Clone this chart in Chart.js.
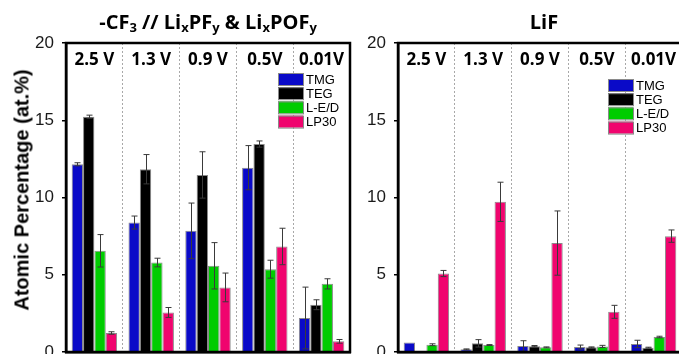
<!DOCTYPE html>
<html>
<head>
<meta charset="utf-8">
<script src="https://cdn.jsdelivr.net/npm/chart.js@4.4.1/dist/chart.umd.min.js"></script>
<style>
    html, body { margin: 0; padding: 0; background: #fff; }
    body { width: 679px; height: 354px; position: relative; overflow: hidden; }
    canvas { position: absolute; top: 0; }
    #leftChart { left: 0; }
    #rightChart { left: 352px; }
    .title {
        position: absolute; top: 8px; font-family: "Open Sans", sans-serif; font-weight: bold;
        font-size: 20px; color: #000; white-space: nowrap; transform: translateX(-50%); line-height: 28px;
    }
    .title sub { font-size: 13px; vertical-align: -3px; line-height: 0; }
    #yTitle {
        position: absolute; left: 22px; top: 190px; font-family: "Liberation Sans", Arial, sans-serif;
        font-weight: bold; font-size: 20px; white-space: nowrap; transform: translate(-50%, -50%) rotate(-90deg);
    }
</style>
</head>
<body>
<canvas id="leftChart" width="352" height="354"></canvas>
<canvas id="rightChart" width="335" height="354"></canvas>
<div class="title" style="left:208px">-CF<sub>3</sub> // Li<sub>x</sub>PF<sub>y</sub> &amp; Li<sub>x</sub>POF<sub>y</sub></div>
<div class="title" style="left:544px">LiF</div>
<div id="yTitle">Atomic Percentage (at.%)</div>
<script>
// categories and series
const voltages = ['2.5 V', '1.3 V', '0.9 V', '0.5V', '0.01V'];
const seriesNames = ['TMG', 'TEG', 'L-E/D', 'LP30'];
const seriesColors = ['#0a0ac8', '#000000', '#00cc00', '#f0046e'];
const yTicks = [0, 5, 10, 15, 20];

// -CF3 // LixPFy & LixPOFy panel
const pfTMG = [12.15, 8.38, 7.84, 11.93, 2.20];
const pfTEG = [15.23, 11.83, 11.46, 13.46, 3.06];
const pfLED = [6.55, 5.79, 5.58, 5.36, 4.41];
const pfLP30 = [1.23, 2.56, 4.18, 6.83, 0.69];
const pfTMGErr = [0.1, 0.42, 1.8, 1.43, 2.0];
const pfTEGErr = [0.1, 0.95, 1.5, 0.2, 0.32];
const pfLEDErr = [1.05, 0.28, 1.5, 0.58, 0.33];
const pfLP30Err = [0.08, 0.32, 0.93, 1.18, 0.12];

// LiF panel
const lifTMG = [0.62, 0.17, 0.39, 0.32, 0.52];
const lifTEG = [0, 0.56, 0.38, 0.30, 0.28];
const lifLED = [0.47, 0.45, 0.30, 0.36, 0.97];
const lifLP30 = [5.08, 9.72, 7.05, 2.60, 7.50];
const lifTMGErr = [0, 0.03, 0.34, 0.13, 0.24];
const lifTEGErr = [0, 0.24, 0.04, 0.03, 0.03];
const lifLEDErr = [0.06, 0.03, 0.03, 0.07, 0.05];
const lifLP30Err = [0.2, 1.27, 2.08, 0.42, 0.4];

// error bars, drawn from the bar elements and the y scale
const errorBars = {
    id: 'errorBars',
    afterDatasetsDraw(chart) {
        const ctx = chart.ctx;
        const yScale = chart.scales.y;
        ctx.save();
        ctx.strokeStyle = '#3a3a3a';
        ctx.lineWidth = 1;
        chart.data.datasets.forEach((ds, di) => {
            const meta = chart.getDatasetMeta(di);
            meta.data.forEach((bar, i) => {
                const err = ds.errors[i];
                if (!err) return;
                const top = yScale.getPixelForValue(ds.data[i] + err);
                const bottom = yScale.getPixelForValue(Math.max(ds.data[i] - err, 0));
                const x = Math.round(bar.x) + 0.5;
                ctx.beginPath();
                ctx.moveTo(x, top);
                ctx.lineTo(x, bottom);
                ctx.moveTo(x - 3, top);
                ctx.lineTo(x + 3, top);
                ctx.moveTo(x - 3, bottom);
                ctx.lineTo(x + 3, bottom);
                ctx.stroke();
            });
        });
        ctx.restore();
    }
};

// voltage labels across the top of the plot area
const groupLabels = {
    id: 'groupLabels',
    afterDraw(chart) {
        const ctx = chart.ctx;
        const xScale = chart.scales.x;
        ctx.save();
        ctx.font = 'bold 17px "Open Sans"';
        ctx.fillStyle = '#000';
        ctx.textAlign = 'center';
        ctx.textBaseline = 'alphabetic';
        chart.data.labels.forEach((label, i) => {
            ctx.fillText(label, xScale.getPixelForValue(i), chart.chartArea.top + 22);
        });
        ctx.restore();
    }
};

// black box round the plot area
const frame = {
    id: 'frame',
    afterDraw(chart) {
        const { left, right, top, bottom } = chart.chartArea;
        const ctx = chart.ctx;
        ctx.save();
        ctx.strokeStyle = '#000';
        ctx.lineWidth = 2.5;
        ctx.strokeRect(left, top, right - left, bottom - top);
        ctx.restore();
    }
};

// legend inside the plot area
const boxLegend = {
    id: 'boxLegend',
    afterDraw(chart, args, opts) {
        const ctx = chart.ctx;
        const x = chart.chartArea.right - opts.right;
        let y = chart.chartArea.top + opts.top;
        ctx.save();
        ctx.font = '13px "Liberation Sans", Arial';
        ctx.textBaseline = 'middle';
        chart.data.datasets.forEach(ds => {
            ctx.fillStyle = ds.backgroundColor;
            ctx.fillRect(x, y, 25, 12);
            ctx.strokeStyle = '#8a8a8a';
            ctx.lineWidth = 1;
            ctx.strokeRect(x + 0.5, y + 0.5, 25, 12);
            ctx.fillStyle = '#000';
            ctx.fillText(ds.label, x + 28, y + 7);
            y += 14.2;
        });
        ctx.restore();
    }
};

function buildChart(canvasId, values, errors, axisWidth, padRight, legendPos) {
    const ctx = document.getElementById(canvasId).getContext('2d');
    return new Chart(ctx, {
        type: 'bar',
        data: {
            labels: voltages,
            datasets: seriesNames.map((name, i) => ({
                label: name,
                data: values[i],
                errors: errors[i],
                backgroundColor: seriesColors[i],
                borderColor: '#8a8a8a',
                borderWidth: 1,
                categoryPercentage: 0.8,
                barPercentage: 1.0
            }))
        },
        options: {
            responsive: false,
            animation: false,
            devicePixelRatio: 1,
            layout: { padding: { top: 43, right: padRight, left: 0, bottom: 0 } },
            plugins: {
                legend: { display: false },
                tooltip: { enabled: false },
                boxLegend: legendPos
            },
            scales: {
                x: {
                    ticks: { display: false },
                    grid: { offset: true, color: '#a8a8a8', lineWidth: 1, drawTicks: false },
                    border: { display: true, color: '#000', width: 2.5, dash: [2, 2] },
                    afterFit: (scale) => {
                        scale.height = 2;
                        scale.paddingLeft = 0;
                        scale.paddingRight = 0;
                    }
                },
                y: {
                    min: 0,
                    max: 20,
                    afterBuildTicks: (scale) => { scale.ticks = yTicks.map(v => ({ value: v })); },
                    ticks: {
                        font: { family: '"Liberation Sans", Arial', size: 17 },
                        color: '#1a1a1a',
                        padding: 8
                    },
                    grid: { drawOnChartArea: false, color: '#000', lineWidth: 1.5, tickLength: 4 },
                    border: { display: true, color: '#000', width: 2.5 },
                    // the bottom label is cut by the page edge, as in the figure
                    afterFit: (scale) => {
                        scale.width = axisWidth;
                        scale.paddingTop = 0;
                        scale.paddingBottom = 0;
                    }
                }
            }
        },
        plugins: [errorBars, groupLabels, frame, boxLegend]
    });
}

document.addEventListener('DOMContentLoaded', () => {
    buildChart('leftChart',
        [pfTMG, pfTEG, pfLED, pfLP30],
        [pfTMGErr, pfTEGErr, pfLEDErr, pfLP30Err],
        66, 2, { right: 72, top: 30 });
    buildChart('rightChart',
        [lifTMG, lifTEG, lifLED, lifLP30],
        [lifTMGErr, lifTEGErr, lifLEDErr, lifLP30Err],
        46, 5, { right: 74, top: 36 });
});
</script>
</body>
</html>
